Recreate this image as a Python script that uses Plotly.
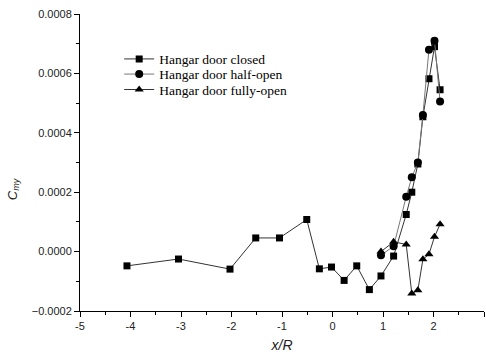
import plotly.graph_objects as go

# Pitching moment coefficient along the deck, three hangar door settings
x_closed = [-4.07, -3.05, -2.03, -1.52, -1.05, -0.51, -0.26, -0.02, 0.23, 0.48,
            0.73, 0.96, 1.21, 1.46, 1.57, 1.69, 1.79, 1.91, 2.02, 2.13]
cmy_closed = [-0.000048, -0.000025, -0.000059, 0.000046, 0.000046, 0.000108,
              -0.000058, -0.000052, -0.000097, -0.000048, -0.000128, -0.000082,
              -0.000015, 0.000125, 0.000200, 0.000295, 0.000454, 0.000582,
              0.000690, 0.000545]

x_half = [0.96, 1.21, 1.46, 1.57, 1.69, 1.79, 1.91, 2.02, 2.13]
cmy_half = [-0.000012, 0.000018, 0.000185, 0.000250, 0.000300, 0.000460,
            0.000680, 0.000710, 0.000505]

x_full = [0.96, 1.21, 1.46, 1.57, 1.69, 1.79, 1.91, 2.02, 2.13]
cmy_full = [0.000000, 0.000033, 0.000024, -0.000141, -0.000130, -0.000026,
            -0.000009, 0.000050, 0.000092]

x_ticks = [-5, -4, -3, -2, -1, 0, 1, 2, 3]
y_ticks = [-0.0002, 0.0, 0.0002, 0.0004, 0.0006, 0.0008]

series = [
    ("Hangar door closed", x_closed, cmy_closed, "square", 7, "#333333", "legend"),
    ("Hangar door half-open", x_half, cmy_half, "circle", 8, "#777777", "legend2"),
    ("Hangar door fully-open", x_full, cmy_full, "triangle-up", 8, "#333333", "legend3"),
]

fig = go.Figure()
for name, xs, ys, sym, size, lc, lg in series:
    fig.add_trace(go.Scatter(
        x=xs, y=ys, name=name, mode="lines+markers", legend=lg,
        line=dict(color=lc, width=1),
        marker=dict(symbol=sym, size=size, color="black", line=dict(width=0)),
    ))

axis_font = dict(family="Liberation Sans, Arial, sans-serif", size=11, color="#222222")
legend_font = dict(family="Liberation Serif, Times New Roman, serif", size=13.5, color="black")


def legend_box(y):
    # one entry per box so the rows can sit closer than the default spacing
    return dict(x=0.097, y=y, xanchor="left", yanchor="middle",
                bgcolor="rgba(0,0,0,0)", font=legend_font, itemwidth=30)


fig.update_layout(
    width=486, height=359,
    margin=dict(l=80, r=2, t=14, b=48),
    plot_bgcolor="white", paper_bgcolor="white",
    showlegend=True,
    legend=legend_box(0.848),
    legend2=legend_box(0.797),
    legend3=legend_box(0.745),
    xaxis=dict(
        range=[-5, 3], tickvals=x_ticks, ticktext=[str(v) for v in x_ticks],
        showgrid=False, zeroline=False, showline=True, linecolor="black", linewidth=1,
        ticks="outside", ticklen=5, tickcolor="black", tickfont=axis_font,
        minor=dict(dtick=0.5, ticks="outside", ticklen=3, tickcolor="black"),
        title=dict(text="<i>x/R</i>", font=dict(family="Liberation Sans, Arial, sans-serif",
                                                  size=14, color="#222222"), standoff=8),
    ),
    yaxis=dict(
        range=[-0.0002, 0.0008], tickvals=y_ticks, tickformat=".4f",
        showgrid=False, zeroline=False, showline=True, linecolor="black", linewidth=1,
        ticks="outside", ticklen=5, tickcolor="black", tickfont=axis_font,
        minor=dict(dtick=0.0001, ticks="outside", ticklen=3, tickcolor="black"),
    ),
    annotations=[dict(
        text="<i>C<sub>my</sub></i>", textangle=-90, showarrow=False,
        xref="paper", yref="paper", x=0, y=0.41, xanchor="center", yanchor="middle",
        xshift=-67, font=dict(family="Liberation Sans, Arial, sans-serif", size=13, color="#222222"),
    )],
)

fig.write_html("out.html")
